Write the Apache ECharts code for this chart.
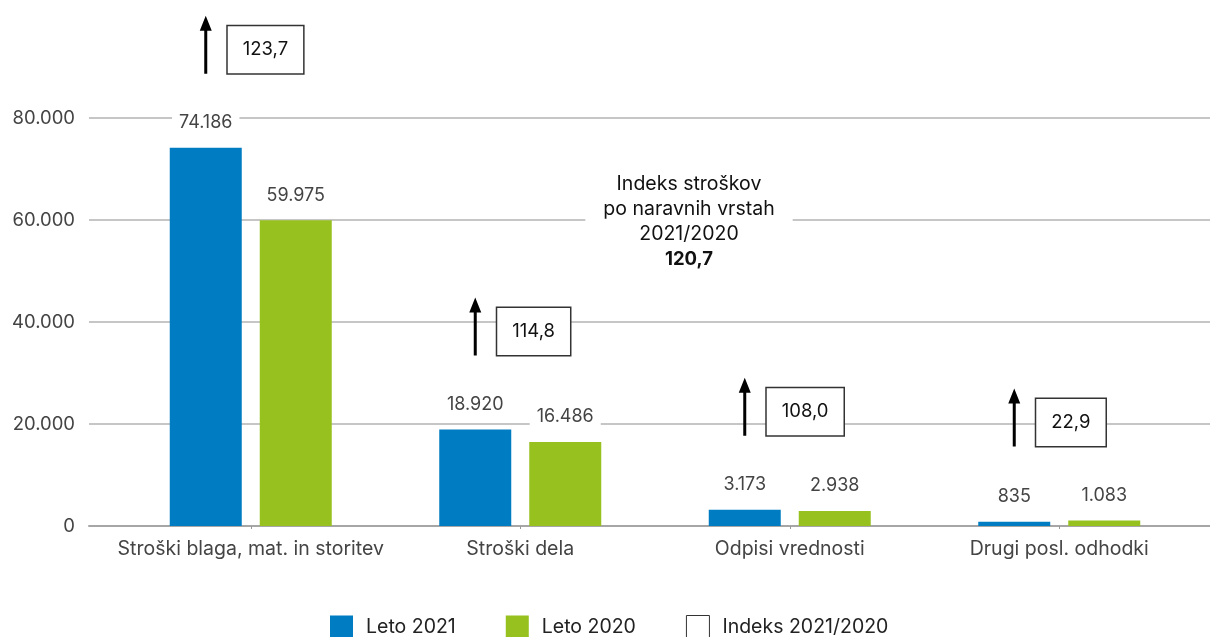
<!DOCTYPE html>
<html>
<head>
<meta charset="utf-8">
<script src="https://cdn.jsdelivr.net/npm/echarts@6/dist/echarts.min.js"></script>
<style>
  html, body { margin: 0; padding: 0; background: #fff; }
  #main { width: 1210px; height: 637px; }
</style>
</head>
<body>
<div id="main"></div>
<script>
var categories = ['Stroški blaga, mat. in storitev', 'Stroški dela', 'Odpisi vrednosti', 'Drugi posl. odhodki'];
var leto2021 = [74186, 18920, 3173, 835];
var leto2020 = [59975, 16486, 2938, 1083];
var indeks = [123.7, 114.8, 108.0, 22.9];
var yTicks = [0, 20000, 40000, 60000, 80000];
var skupniIndeks = '120,7';

var BLUE = '#007cc2';
var GREEN = '#96c11f';
var FONT = 'Inter, "Noto Sans", sans-serif';

function fmt(n) {
  return String(n).replace(/\B(?=(\d{3})+(?!\d))/g, '.');
}
function fmtIdx(n) {
  return n.toFixed(1).replace('.', ',');
}

var chart = echarts.init(document.getElementById('main'));

// arrows and index boxes sit above the taller bar of each category
var anchors = categories.map(function (c, i) {
  return [i, Math.max(leto2021[i], leto2020[i]), indeks[i]];
});

var valueLabel = {
  show: true,
  position: 'top',
  distance: 14,
  formatter: function (p) { return fmt(p.value); },
  color: '#444',
  fontSize: 18,
  fontFamily: FONT,
  backgroundColor: '#fff',
  padding: [2, 7]
};

var option = {
  animation: false,
  textStyle: { fontFamily: FONT },
  title: {
    text: 'Indeks stroškov\npo naravnih vrstah\n2021/2020\n{b|' + skupniIndeks + '}',
    left: 671,
    top: 168,
    textAlign: 'center',
    backgroundColor: '#fff',
    padding: [4, 18],
    textStyle: {
      fontSize: 19.5,
      fontWeight: 'normal',
      color: '#111',
      lineHeight: 25,
      fontFamily: FONT,
      rich: {
        b: { fontSize: 18.5, fontWeight: 'bold', color: '#111', lineHeight: 25, fontFamily: FONT }
      }
    }
  },
  legend: {
    left: 325,
    top: 610,
    itemWidth: 23,
    itemHeight: 23,
    itemGap: 50,
    textStyle: { fontSize: 19.5, color: '#222', fontFamily: FONT, padding: [0, 0, 0, 8] },
    data: [
      { name: 'Leto 2021', icon: 'rect' },
      { name: 'Leto 2020', icon: 'rect' },
      { name: 'Indeks 2021/2020', icon: 'rect',
        itemStyle: { color: '#fff', borderColor: '#333', borderWidth: 1, opacity: 1 } }
    ]
  },
  grid: [
    { left: 116, right: 16, top: 118, bottom: 111 },
    { left: 89, right: 0, top: 118, bottom: 111 }
  ],
  xAxis: [
    {
      type: 'category',
      gridIndex: 0,
      data: categories,
      axisLine: { show: false },
      axisTick: { show: true, alignWithLabel: true, length: 3, lineStyle: { color: '#999' } },
      axisLabel: { interval: 0, color: '#444', fontSize: 19.5, margin: 13, fontFamily: FONT },
      z: 3
    },
    {
      type: 'value',
      gridIndex: 1,
      min: 0,
      max: 1,
      axisLine: { show: true, lineStyle: { color: '#a6a6a6', width: 2 } },
      axisTick: { show: false },
      axisLabel: { show: false },
      splitLine: { show: false }
    }
  ],
  yAxis: [
    {
      type: 'value',
      gridIndex: 0,
      min: yTicks[0],
      max: yTicks[yTicks.length - 1],
      interval: yTicks[1] - yTicks[0],
      show: false,
      splitLine: { show: false }
    },
    {
      type: 'value',
      gridIndex: 1,
      min: yTicks[0],
      max: yTicks[yTicks.length - 1],
      interval: yTicks[1] - yTicks[0],
      axisLine: { show: false },
      axisTick: { show: false },
      axisLabel: {
        color: '#444', fontSize: 18.5, margin: 14, fontFamily: FONT,
        formatter: function (v) { return fmt(v); }
      },
      splitLine: { show: true, lineStyle: { color: '#b3b3b3', width: 1.5 } }
    }
  ],
  series: [
    {
      name: 'Leto 2021',
      type: 'bar',
      xAxisIndex: 0,
      yAxisIndex: 0,
      data: leto2021,
      barWidth: 72,
      barGap: '25%',
      itemStyle: { color: BLUE },
      label: valueLabel
    },
    {
      name: 'Leto 2020',
      type: 'bar',
      xAxisIndex: 0,
      yAxisIndex: 0,
      data: leto2020,
      barWidth: 72,
      barGap: '25%',
      itemStyle: { color: GREEN },
      label: valueLabel
    },
    {
      name: 'arrows',
      type: 'scatter',
      xAxisIndex: 0,
      yAxisIndex: 0,
      clip: false,
      silent: true,
      data: anchors,
      symbol: 'path://M6,0L12,15L7.5,15L7.5,58L4.5,58L4.5,15L0,15Z',
      symbolSize: [12, 58],
      symbolOffset: [-45, -103],
      itemStyle: { color: '#000', opacity: 1 },
      z: 5
    },
    {
      name: 'Indeks 2021/2020',
      type: 'scatter',
      xAxisIndex: 0,
      yAxisIndex: 0,
      clip: false,
      data: anchors,
      encode: { x: 0, y: 1 },
      symbolSize: 0,
      itemStyle: { color: '#fff', borderColor: '#333', borderWidth: 1, opacity: 1 },
      label: {
        show: true,
        position: 'inside',
        align: 'left',
        verticalAlign: 'middle',
        offset: [-23, -98],
        formatter: function (p) { return fmtIdx(p.value[2]); },
        color: '#111',
        fontSize: 18.5,
        fontFamily: FONT,
        backgroundColor: '#fff',
        borderColor: '#333',
        borderWidth: 1.5,
        padding: [14, 15]
      },
      z: 5
    }
  ]
};

chart.setOption(option);
</script>
</body>
</html>
